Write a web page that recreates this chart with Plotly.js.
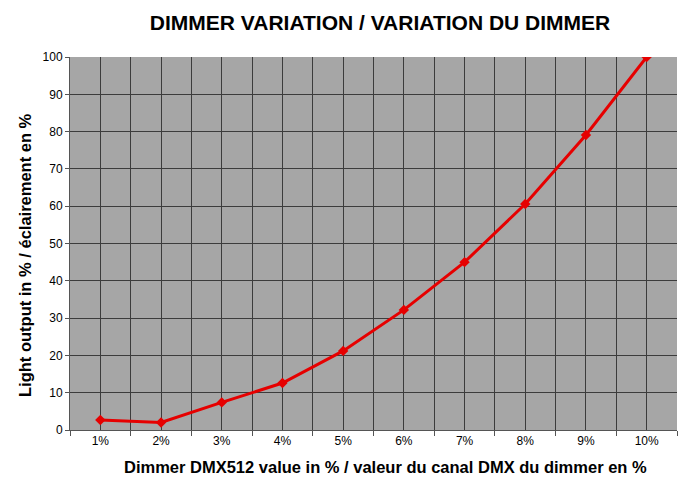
<!DOCTYPE html>
<html>
<head>
<meta charset="utf-8">
<script src="https://cdn.plot.ly/plotly-3.0.1.min.js"></script>
<style>html,body{margin:0;padding:0;background:#fff;}#chart{width:700px;height:491px;}</style>
</head>
<body>
<div id="chart"></div>
<script>
const categories = ["1%","2%","3%","4%","5%","6%","7%","8%","9%","10%"];
const lightOutput = [2.7, 2.0, 7.4, 12.6, 21.2, 32.2, 45.0, 60.6, 79.1, 100];
const yTicks = [0,10,20,30,40,50,60,70,80,90,100];

const xPos = categories.map((c, i) => i + 1);

const trace = {
  x: xPos,
  y: lightOutput,
  type: 'scatter',
  mode: 'lines+markers',
  line: {color: '#e60000', width: 3},
  marker: {symbol: 'diamond', size: 8, color: '#e60000'},
  hoverinfo: 'skip'
};

const font = 'Liberation Sans, Arial, sans-serif';
const layout = {
  width: 700, height: 491,
  margin: {l: 70, r: 23, t: 57, b: 61},
  paper_bgcolor: '#ffffff',
  plot_bgcolor: '#a6a6a6',
  showlegend: false,
  title: {text: '<b>DIMMER VARIATION / VARIATION DU DIMMER</b>', font: {family: font, size: 21, color: '#000'}, x: 380/700, xref: 'container', xanchor: 'center', y: 1 - 23/491, yref: 'container', yanchor: 'middle'},
  xaxis: {
    range: [0.5, 10.5],
    tickvals: xPos,
    ticktext: categories,
    ticks: '',
    showgrid: true, gridcolor: '#3c3c3c', gridwidth: 1,
    minor: {tick0: 0.5, dtick: 1, ticks: 'outside', ticklen: 5, tickcolor: '#555', showgrid: true, gridcolor: '#3c3c3c', gridwidth: 1},
    showline: true, linecolor: '#555', linewidth: 1,
    zeroline: false,
    tickfont: {family: font, size: 12, color: '#000'}
  },
  yaxis: {
    range: [0, 100],
    tickvals: yTicks,
    ticks: 'outside', ticklen: 4, tickcolor: '#555',
    showgrid: true, gridcolor: '#3c3c3c', gridwidth: 1,
    showline: true, linecolor: '#555', linewidth: 1,
    zeroline: false,
    tickfont: {family: font, size: 12, color: '#000'}
  },
  annotations: [
    {text: '<b>Dimmer DMX512 value in % / valeur du canal DMX du dimmer en %</b>', xref: 'paper', yref: 'paper',
     x: (385 - 70) / 607, y: -(467 - 430) / 373, xanchor: 'center', yanchor: 'middle', showarrow: false,
     font: {family: font, size: 16.5, color: '#000'}},
    {text: '<b>Light output in % / éclairement en %</b>', xref: 'paper', yref: 'paper', textangle: -90,
     x: -(70 - 25) / 607, y: (430 - 255) / 373, xanchor: 'center', yanchor: 'middle', showarrow: false,
     font: {family: font, size: 16.5, color: '#000'}}
  ]
};

Plotly.newPlot('chart', [trace], layout, {staticPlot: true, displayModeBar: false});
</script>
</body>
</html>
